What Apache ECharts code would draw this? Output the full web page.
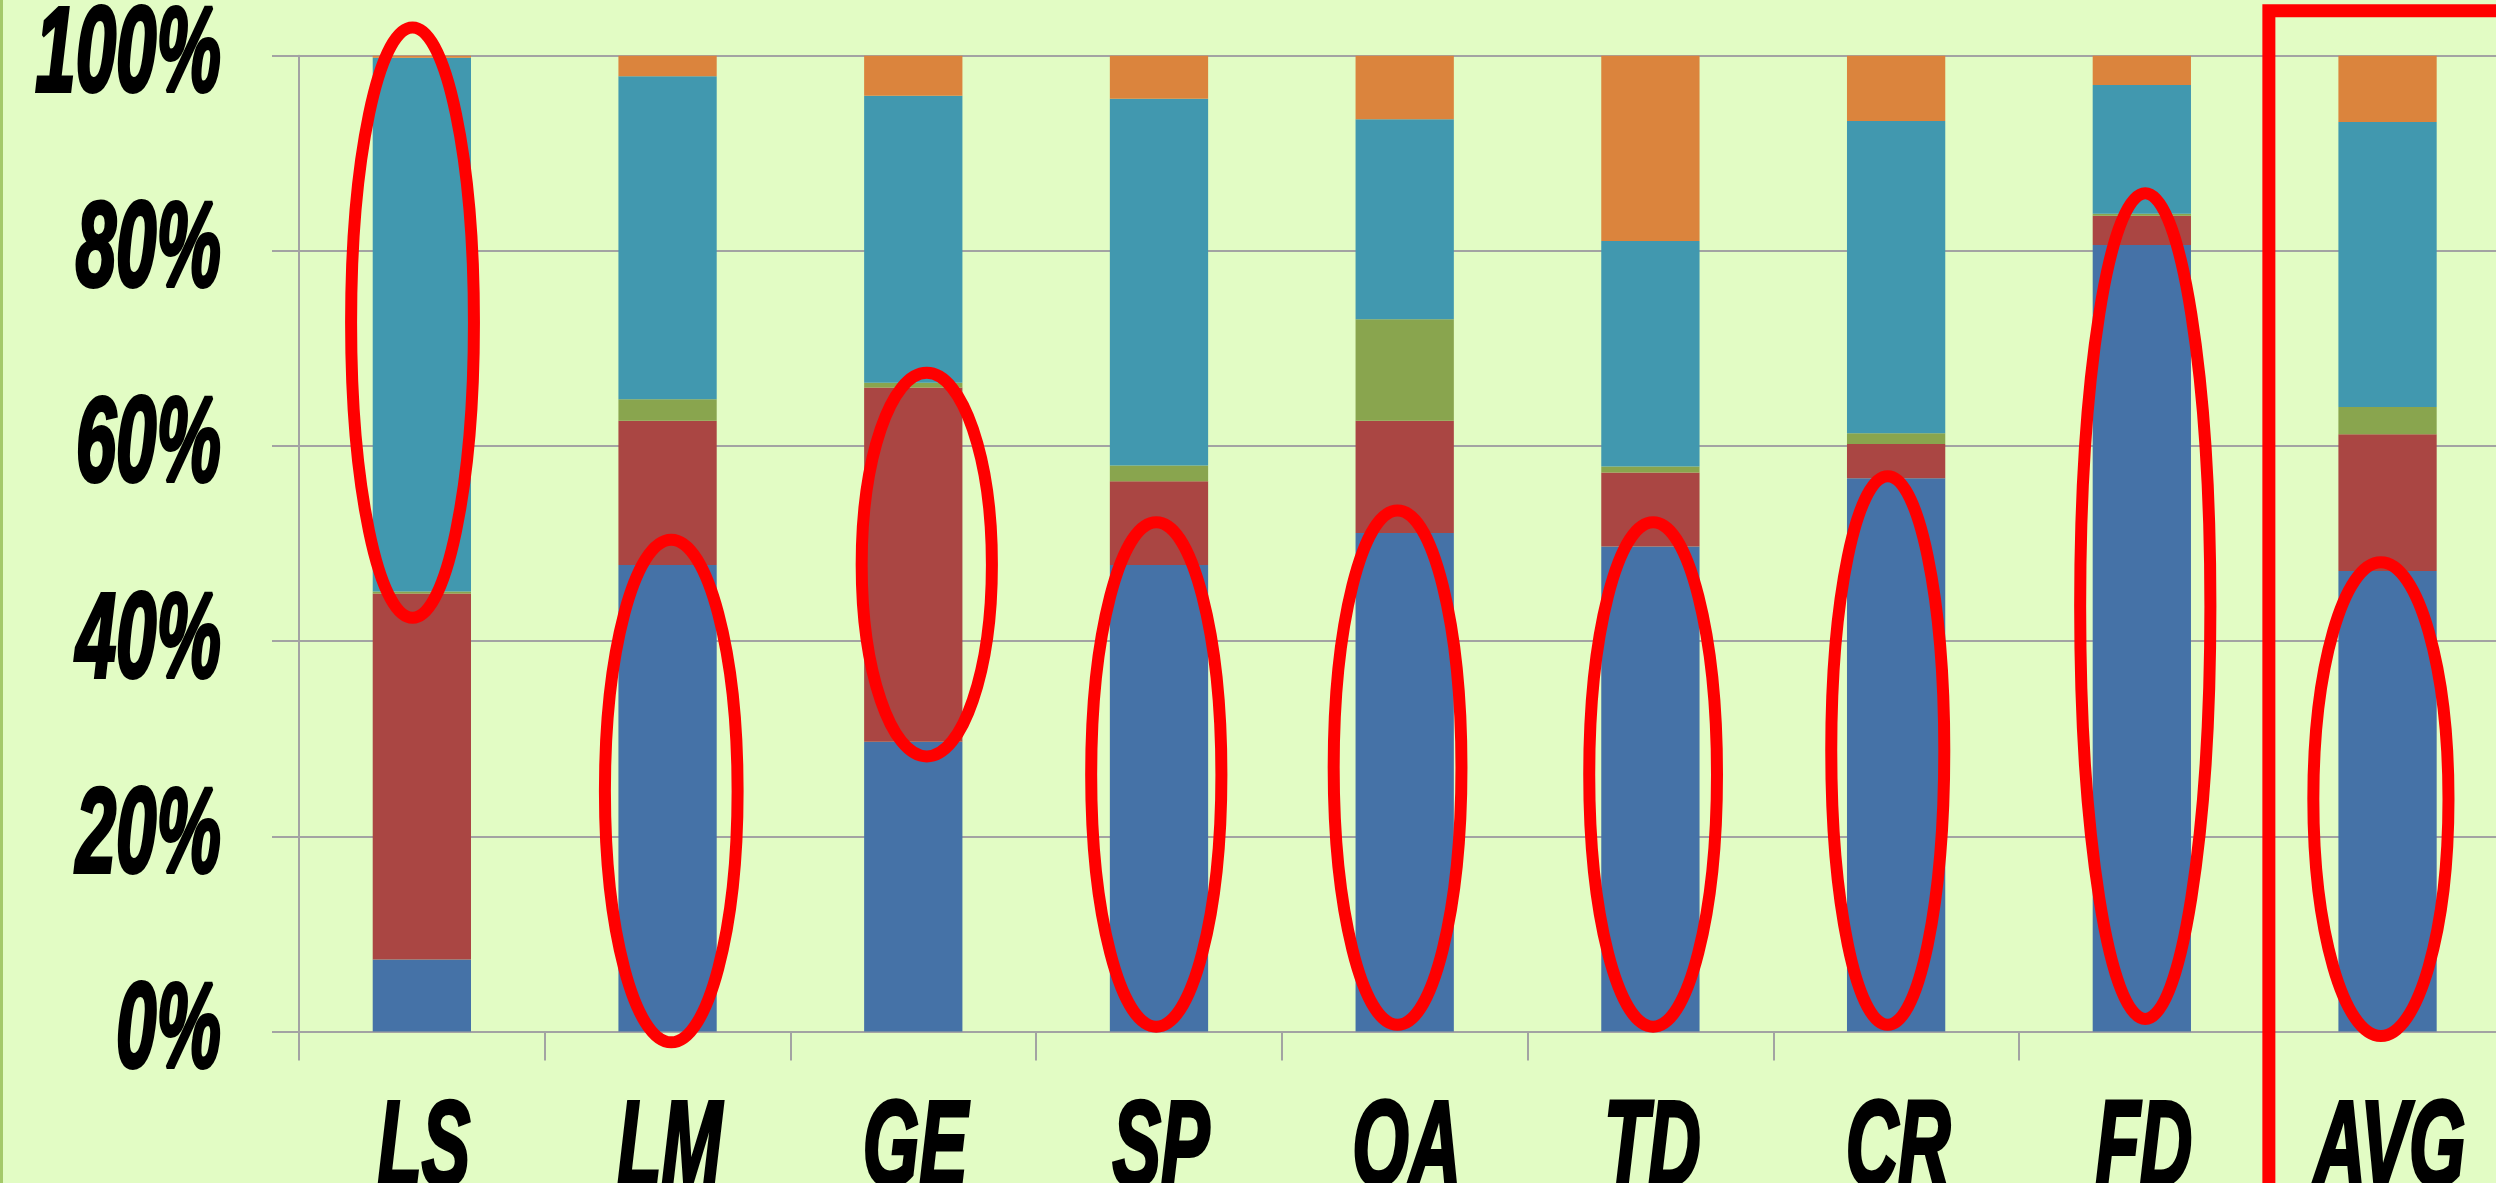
<!DOCTYPE html>
<html>
<head>
<meta charset="utf-8">
<script src="https://cdn.jsdelivr.net/npm/echarts@6/dist/echarts.min.js"></script>
<style>
  html, body { margin: 0; padding: 0; background: #E2FCC4; }
  #chart { width: 2496px; height: 1183px; }
</style>
</head>
<body>
<div id="chart"></div>
<script>
// Category codes along the x axis
const categories = ['LS', 'LM', 'GE', 'SP', 'OA', 'TD', 'CR', 'FD', 'AVG'];

// Share of each component per category (percent, stacks to 100)
const blueShare   = [7.4, 47.8, 29.7, 47.8, 51.1, 49.7, 56.7, 80.6, 47.2];
const redShare    = [37.5, 14.8, 36.3, 8.6, 11.5, 7.6, 3.5, 3.0, 14.0];
const greenShare  = [0.2, 2.2, 0.5, 1.6, 10.4, 0.6, 1.1, 0.2, 2.8];
const tealShare   = [54.7, 33.1, 29.4, 37.6, 20.5, 23.1, 32.0, 13.2, 29.2];
const orangeShare = [0.2, 2.1, 4.1, 4.4, 6.5, 19.0, 6.7, 3.0, 6.8];

// Value axis ticks (percent)
const yTicks = [0, 20, 40, 60, 80, 100];

// Hand-drawn highlight rings: [category index, lower %, upper %]
const highlightRanges = [
  [0, 42.4, 102.9],
  [1, -1.1, 50.4],
  [2, 28.2, 67.5],
  [3, 0.5, 52.2],
  [4, 0.7, 53.4],
  [5, 0.5, 52.2],
  [6, 0.7, 56.9],
  [7, 1.3, 85.9],
  [8, -0.45, 48.1]
];
// Ring shape tweaks, as fractions of one category band
const ringShift     = [-0.038, 0.015, 0.055, -0.011, -0.029, 0.011, -0.034, 0.014, -0.027];
const ringHalfWidth = [0.25, 0.27, 0.265, 0.265, 0.26, 0.26, 0.23, 0.265, 0.275];

// The summary column gets a box around it: [category index, upper %]
const boxedColumn = [[8, 104.6]];

// Tall condensed lettering: a bold italic face squeezed horizontally
const LETTER_FONT = "italic bold 121px 'Liberation Sans', Arial, sans-serif";
const LETTER_SQUEEZE = 0.6;

const gray = '#A3A3A3';

function barSeries(name, data, color) {
  return {
    name: name,
    type: 'bar',
    stack: 'share',
    data: data,
    barWidth: '40%',
    itemStyle: { color: color },
    emphasis: { disabled: true }
  };
}

const chart = echarts.init(document.getElementById('chart'), null, { renderer: 'canvas' });

chart.setOption({
  backgroundColor: '#E2FCC4',
  animation: false,
  grid: {
    left: 299,
    top: 55.7,
    bottom: 151.4,
    right: -14.4,
    containLabel: false,
    outerBoundsMode: 'none'
  },
  xAxis: {
    type: 'category',
    data: categories,
    axisLine: { show: true, lineStyle: { color: gray, width: 2 } },
    axisTick: { show: true, length: 29, inside: false, alignWithLabel: false, lineStyle: { color: gray, width: 2 } },
    axisLabel: { show: false },
    splitLine: { show: false }
  },
  yAxis: {
    type: 'value',
    min: yTicks[0],
    max: yTicks[yTicks.length - 1],
    interval: yTicks[1] - yTicks[0],
    axisLine: { show: true, lineStyle: { color: gray, width: 2 } },
    axisTick: { show: true, length: 27, inside: false, lineStyle: { color: gray, width: 2 } },
    axisLabel: { show: false },
    splitLine: { show: true, lineStyle: { color: gray, width: 2 } }
  },
  series: [
    barSeries('Blue', blueShare, '#4572A7'),
    barSeries('Red', redShare, '#AA4643'),
    barSeries('Green', greenShare, '#89A54E'),
    barSeries('Teal', tealShare, '#4198AF'),
    barSeries('Orange', orangeShare, '#DB843D'),
    {
      name: 'Rings',
      type: 'custom',
      clip: false,
      silent: true,
      z: 10,
      data: highlightRanges,
      encode: { x: 0, y: [1, 2] },
      renderItem: function (params, api) {
        const i = params.dataIndex;
        const c = api.value(0);
        const top = api.coord([c, api.value(2)]);
        const bot = api.coord([c, api.value(1)]);
        const band = api.size([1, 0])[0];
        return {
          type: 'ellipse',
          shape: {
            cx: top[0] + ringShift[i] * band,
            cy: (top[1] + bot[1]) / 2,
            rx: ringHalfWidth[i] * band,
            ry: (bot[1] - top[1]) / 2
          },
          style: { fill: 'none', stroke: '#FF0000', lineWidth: 12 }
        };
      }
    },
    {
      name: 'Box',
      type: 'custom',
      clip: false,
      silent: true,
      z: 10,
      data: boxedColumn,
      encode: { x: 0, y: 1 },
      renderItem: function (params, api) {
        const c = api.value(0);
        const corner = api.coord([c, api.value(1)]);
        const band = api.size([1, 0])[0];
        const x = corner[0] - band / 2 + 0.017 * band;
        return {
          type: 'rect',
          shape: { x: x, y: corner[1], width: 600, height: 2000 },
          style: { fill: 'none', stroke: '#FF0000', lineWidth: 13 }
        };
      }
    }
  ]
});

// Axis lettering, placed from the chart's own scales
const band = chart.convertToPixel({ xAxisIndex: 0 }, 1) - chart.convertToPixel({ xAxisIndex: 0 }, 0);
const plotLeft = chart.convertToPixel({ xAxisIndex: 0 }, 0) - band / 2;
const baseY = chart.convertToPixel({ yAxisIndex: 0 }, 0);

function letterStyle(text, align) {
  return {
    text: text,
    font: LETTER_FONT,
    fill: '#000',
    stroke: '#000',
    lineWidth: 4,
    align: align,
    verticalAlign: 'middle'
  };
}

const lettering = [];
yTicks.forEach(function (v) {
  lettering.push({
    type: 'text',
    x: plotLeft - 78,
    y: chart.convertToPixel({ yAxisIndex: 0 }, v) + 2,
    scaleX: LETTER_SQUEEZE,
    silent: true,
    style: letterStyle(v + '%', 'right')
  });
});
categories.forEach(function (name, i) {
  lettering.push({
    type: 'text',
    x: chart.convertToPixel({ xAxisIndex: 0 }, i) + 2,
    y: baseY + 120,
    scaleX: LETTER_SQUEEZE,
    silent: true,
    style: letterStyle(name, 'center')
  });
});
lettering.push({
  type: 'rect',
  left: 0,
  top: 0,
  shape: { width: 3, height: 1183 },
  style: { fill: '#A4C96A' },
  silent: true
});

chart.setOption({ graphic: lettering });
</script>
</body>
</html>
